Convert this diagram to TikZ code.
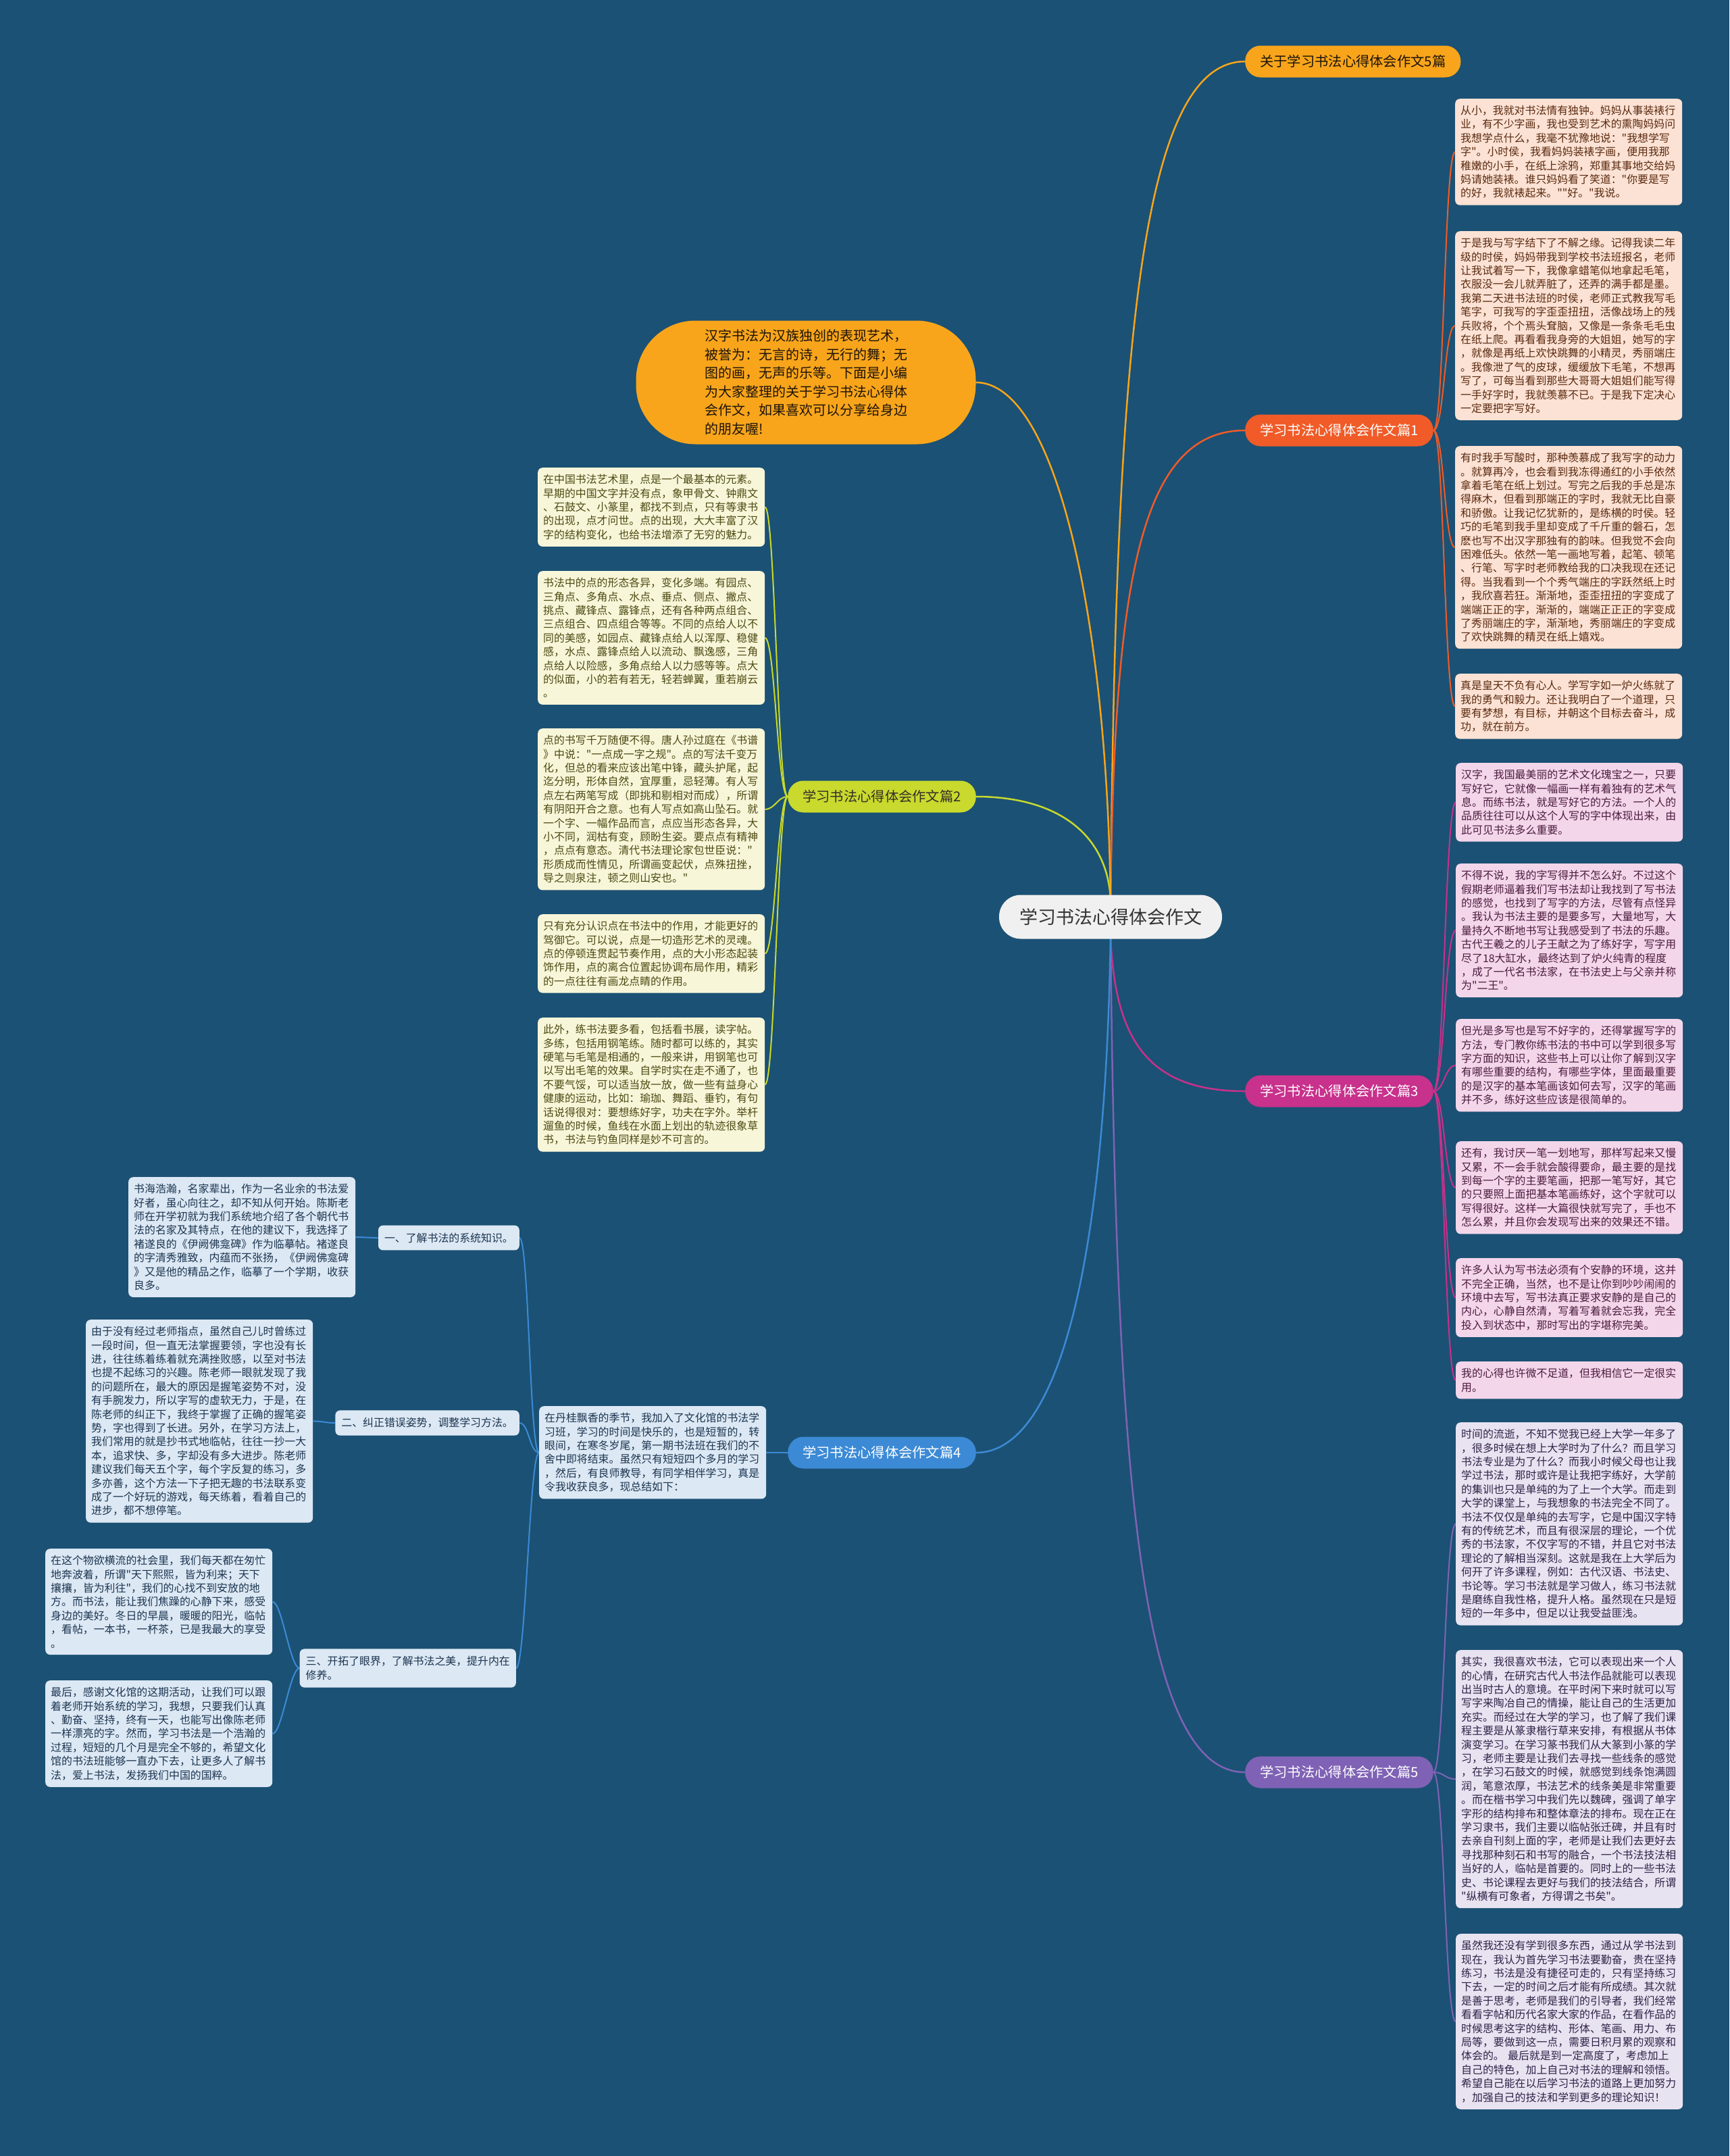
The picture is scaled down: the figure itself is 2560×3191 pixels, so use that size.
\documentclass[tikz,border=0pt]{standalone}
\usepackage{fontspec}
\setmainfont[Ligatures=TeXOff]{Noto Sans CJK SC}
\usetikzlibrary{backgrounds}
\definecolor{bg}{HTML}{1B5174}
\definecolor{cy}{HTML}{F8A51B}
\definecolor{c1}{HTML}{F05B28}
\definecolor{c3}{HTML}{C8318C}
\definecolor{c5}{HTML}{7F62B5}
\definecolor{c2}{HTML}{C9D92D}
\definecolor{c4}{HTML}{3C8AD5}
\definecolor{f1}{HTML}{FCE2D4}
\definecolor{f3}{HTML}{F4D6EA}
\definecolor{f5}{HTML}{E8E3F1}
\definecolor{f2}{HTML}{F8F6D9}
\definecolor{f4}{HTML}{DCE8F4}
\definecolor{t1}{HTML}{5A2A10}
\definecolor{t3}{HTML}{4B1C3E}
\definecolor{t5}{HTML}{2E2347}
\definecolor{t2}{HTML}{4B4A12}
\definecolor{t4}{HTML}{1C3550}
\begin{document}
\begin{tikzpicture}[x=1pt,y=-1pt,
  leaf/.style={rounded corners=7pt, anchor=north west, align=left, text width=320pt,
    inner xsep=8pt, inner ysep=10pt, font=\fontsize{15.9}{20.4}\selectfont},
  leafA/.style={leaf, fill=f1, text=t1},
  leafC/.style={leaf, fill=f3, text=t3},
  leafE/.style={leaf, fill=f5, text=t5},
  leafB/.style={leaf, fill=f2, text=t2},
  leafD/.style={leaf, fill=f4, text=t4},
  subbox/.style={rounded corners=7pt, fill=f4, text=t4, align=left, anchor=east,
    inner xsep=9pt, inner ysep=11pt, font=\fontsize{15.9}{20.4}\selectfont},
  branch/.style={rounded corners=23pt, minimum height=47pt, inner xsep=22pt,
    font=\fontsize{20.3}{24}\selectfont},
  trunk/.style={line width=2.5pt},
  twig/.style={line width=2pt}
]
\useasboundingbox (0,0) rectangle (2560,3191);

% ---------- central and branch nodes ----------
\node[rounded corners=32pt, fill=white!94!black, text=black!80, minimum width=330pt,
  minimum height=65pt, font=\fontsize{27}{32}\selectfont] (ctr) at (1644,1357) {学习书法心得体会作文};

\node[rounded corners=88pt, fill=cy, text=black!85!brown, minimum width=503pt, minimum height=183pt,
  align=left, font=\fontsize{20}{27.5}\selectfont] (intro) at (1193,566)
  {汉字书法为汉族独创的表现艺术，\\被誉为：无言的诗，无行的舞；无\\图的画，无声的乐等。下面是小编\\为大家整理的关于学习书法心得体\\会作文，如果喜欢可以分享给身边\\的朋友喔!};

\node[branch, fill=cy, text=black!85!brown, anchor=west] (p0) at (1843,91) {关于学习书法心得体会作文5篇};
\node[branch, fill=c1, text=white, anchor=west] (p1) at (1843,637) {学习书法心得体会作文篇1};
\node[branch, fill=c3, text=white, anchor=west] (p3) at (1843,1615) {学习书法心得体会作文篇3};
\node[branch, fill=c5, text=white, anchor=west] (p5) at (1843,2623) {学习书法心得体会作文篇5};
\node[branch, fill=c2, text=black!85!olive, anchor=east] (p2) at (1445,1179) {学习书法心得体会作文篇2};
\node[branch, fill=c4, text=white, anchor=east] (p4) at (1445,2150) {学习书法心得体会作文篇4};

% ---------- branch 1 ----------
\node[leafA] (a1) at (2154,146) {从小，我就对书法情有独钟。妈妈从事装裱行\\业，有不少字画，我也受到艺术的熏陶妈妈问\\我想学点什么，我毫不犹豫地说："我想学写\\字"。小时侯，我看妈妈装裱字画，便用我那\\稚嫩的小手，在纸上涂鸦，郑重其事地交给妈\\妈请她装裱。谁只妈妈看了笑道："你要是写\\的好，我就裱起来。""好。"我说。};
\node[leafA] (a2) at (2154,342) {于是我与写字结下了不解之缘。记得我读二年\\级的时侯，妈妈带我到学校书法班报名，老师\\让我试着写一下，我像拿蜡笔似地拿起毛笔，\\衣服没一会儿就弄脏了，还弄的满手都是墨。\\我第二天进书法班的时侯，老师正式教我写毛\\笔字，可我写的字歪歪扭扭，活像战场上的残\\兵败将，个个焉头耷脑，又像是一条条毛毛虫\\在纸上爬。再看看我身旁的大姐姐，她写的字\\，就像是再纸上欢快跳舞的小精灵，秀丽端庄\\。我像泄了气的皮球，缓缓放下毛笔，不想再\\写了，可每当看到那些大哥哥大姐姐们能写得\\一手好字时，我就羡慕不已。于是我下定决心\\一定要把字写好。};
\node[leafA] (a3) at (2154,660) {有时我手写酸时，那种羡慕成了我写字的动力\\。就算再冷，也会看到我冻得通红的小手依然\\拿着毛笔在纸上划过。写完之后我的手总是冻\\得麻木，但看到那端正的字时，我就无比自豪\\和骄傲。让我记忆犹新的，是练横的时侯。轻\\巧的毛笔到我手里却变成了千斤重的磐石，怎\\麽也写不出汉字那独有的韵味。但我觉不会向\\困难低头。依然一笔一画地写着，起笔、顿笔\\、行笔、写字时老师教给我的口决我现在还记\\得。当我看到一个个秀气端庄的字跃然纸上时\\，我欣喜若狂。渐渐地，歪歪扭扭的字变成了\\端端正正的字，渐渐的，端端正正正的字变成\\了秀丽端庄的字，渐渐地，秀丽端庄的字变成\\了欢快跳舞的精灵在纸上嬉戏。};
\node[leafA] (a4) at (2154,997) {真是皇天不负有心人。学写字如一炉火练就了\\我的勇气和毅力。还让我明白了一个道理，只\\要有梦想，有目标，并朝这个目标去奋斗，成\\功，就在前方。};

% ---------- branch 3 ----------
\node[leafC] (b1) at (2155,1129) {汉字，我国最美丽的艺术文化瑰宝之一，只要\\写好它，它就像一幅画一样有着独有的艺术气\\息。而练书法，就是写好它的方法。一个人的\\品质往往可以从这个人写的字中体现出来，由\\此可见书法多么重要。};
\node[leafC] (b2) at (2155,1278) {不得不说，我的字写得并不怎么好。不过这个\\假期老师逼着我们写书法却让我找到了写书法\\的感觉，也找到了写字的方法，尽管有点怪异\\。我认为书法主要的是要多写，大量地写，大\\量持久不断地书写让我感受到了书法的乐趣。\\古代王羲之的儿子王献之为了练好字，写字用\\尽了18大缸水，最终达到了炉火纯青的程度\\，成了一代名书法家，在书法史上与父亲并称\\为"二王"。};
\node[leafC] (b3) at (2155,1508) {但光是多写也是写不好字的，还得掌握写字的\\方法，专门教你练书法的书中可以学到很多写\\字方面的知识，这些书上可以让你了解到汉字\\有哪些重要的结构，有哪些字体，里面最重要\\的是汉字的基本笔画该如何去写，汉字的笔画\\并不多，练好这些应该是很简单的。};
\node[leafC] (b4) at (2155,1689) {还有，我讨厌一笔一划地写，那样写起来又慢\\又累，不一会手就会酸得要命，最主要的是找\\到每一个字的主要笔画，把那一笔写好，其它\\的只要照上面把基本笔画练好，这个字就可以\\写得很好。这样一大篇很快就写完了，手也不\\怎么累，并且你会发现写出来的效果还不错。};
\node[leafC] (b5) at (2155,1862) {许多人认为写书法必须有个安静的环境，这并\\不完全正确，当然，也不是让你到吵吵闹闹的\\环境中去写，写书法真正要求安静的是自己的\\内心，心静自然清，写着写着就会忘我，完全\\投入到状态中，那时写出的字堪称完美。};
\node[leafC] (b6) at (2155,2015) {我的心得也许微不足道，但我相信它一定很实\\用。};

% ---------- branch 5 ----------
\node[leafE] (e1) at (2155,2105) {时间的流逝，不知不觉我已经上大学一年多了\\，很多时候在想上大学时为了什么？而且学习\\书法专业是为了什么？而我小时候父母也让我\\学过书法，那时或许是让我把字练好，大学前\\的集训也只是单纯的为了上一个大学。而走到\\大学的课堂上，与我想象的书法完全不同了。\\书法不仅仅是单纯的去写字，它是中国汉字特\\有的传统艺术，而且有很深层的理论，一个优\\秀的书法家，不仅字写的不错，并且它对书法\\理论的了解相当深刻。这就是我在上大学后为\\何开了许多课程，例如：古代汉语、书法史、\\书论等。学习书法就是学习做人，练习书法就\\是磨练自我性格，提升人格。虽然现在只是短\\短的一年多中，但足以让我受益匪浅。};
\node[leafE] (e2) at (2155,2442) {其实，我很喜欢书法，它可以表现出来一个人\\的心情，在研究古代人书法作品就能可以表现\\出当时古人的意境。在平时闲下来时就可以写\\写字来陶冶自己的情操，能让自己的生活更加\\充实。而经过在大学的学习，也了解了我们课\\程主要是从篆隶楷行草来安排，有根据从书体\\演变学习。在学习篆书我们从大篆到小篆的学\\习，老师主要是让我们去寻找一些线条的感觉\\，在学习石鼓文的时候，就感觉到线条饱满圆\\润，笔意浓厚，书法艺术的线条美是非常重要\\。而在楷书学习中我们先以魏碑，强调了单字\\字形的结构排布和整体章法的排布。现在正在\\学习隶书，我们主要以临帖张迁碑，并且有时\\去亲自刊刻上面的字，老师是让我们去更好去\\寻找那种刻石和书写的融合，一个书法技法相\\当好的人，临帖是首要的。同时上的一些书法\\史、书论课程去更好与我们的技法结合，所谓\\"纵横有可象者，方得谓之书矣"。};
\node[leafE] (e3) at (2155,2862) {虽然我还没有学到很多东西，通过从学书法到\\现在，我认为首先学习书法要勤奋，贵在坚持\\练习，书法是没有捷径可走的，只有坚持练习\\下去，一定的时间之后才能有所成绩。其次就\\是善于思考，老师是我们的引导者，我们经常\\看看字帖和历代名家大家的作品，在看作品的\\时候思考这字的结构、形体、笔画、用力、布\\局等，要做到这一点，需要日积月累的观察和\\体会的。 最后就是到一定高度了，考虑加上\\自己的特色，加上自己对书法的理解和领悟。\\希望自己能在以后学习书法的道路上更加努力\\，加强自己的技法和学到更多的理论知识！};

% ---------- branch 2 ----------
\node[leafB] (d1) at (796,692) {在中国书法艺术里，点是一个最基本的元素。\\早期的中国文字并没有点，象甲骨文、钟鼎文\\、石鼓文、小篆里，都找不到点，只有等隶书\\的出现，点才问世。点的出现，大大丰富了汉\\字的结构变化，也给书法增添了无穷的魅力。};
\node[leafB] (d2) at (796,845) {书法中的点的形态各异，变化多端。有园点、\\三角点、多角点、水点、垂点、侧点、撇点、\\挑点、藏锋点、露锋点，还有各种两点组合、\\三点组合、四点组合等等。不同的点给人以不\\同的美感，如园点、藏锋点给人以浑厚、稳健\\感，水点、露锋点给人以流动、飘逸感，三角\\点给人以险感，多角点给人以力感等等。点大\\的似面，小的若有若无，轻若蝉翼，重若崩云\\。};
\node[leafB] (d3) at (796,1078) {点的书写千万随便不得。唐人孙过庭在《书谱\\》中说："一点成一字之规"。点的写法千变万\\化，但总的看来应该出笔中锋，藏头护尾，起\\迄分明，形体自然，宜厚重，忌轻薄。有人写\\点左右两笔写成（即挑和剔相对而成），所谓\\有阴阳开合之意。也有人写点如高山坠石。就\\一个字、一幅作品而言，点应当形态各异，大\\小不同，润枯有变，顾盼生姿。要点点有精神\\，点点有意态。清代书法理论家包世臣说："\\形质成而性情见，所谓画变起伏，点殊扭挫，\\导之则泉注，顿之则山安也。"};
\node[leafB] (d4) at (796,1353) {只有充分认识点在书法中的作用，才能更好的\\驾御它。可以说，点是一切造形艺术的灵魂。\\点的停顿连贯起节奏作用，点的大小形态起装\\饰作用，点的离合位置起协调布局作用，精彩\\的一点往往有画龙点睛的作用。};
\node[leafB] (d5) at (796,1506) {此外，练书法要多看，包括看书展，读字帖。\\多练，包括用钢笔练。随时都可以练的，其实\\硬笔与毛笔是相通的，一般来讲，用钢笔也可\\以写出毛笔的效果。自学时实在走不通了，也\\不要气馁，可以适当放一放，做一些有益身心\\健康的运动，比如：瑜珈、舞蹈、垂钓，有句\\话说得很对：要想练好字，功夫在字外。举杆\\遛鱼的时候，鱼线在水面上划出的轨迹很象草\\书，书法与钓鱼同样是妙不可言的。};

% ---------- branch 4 ----------
\node[leafD] (m) at (798,2081) {在丹桂飘香的季节，我加入了文化馆的书法学\\习班，学习的时间是快乐的，也是短暂的，转\\眼间，在寒冬岁尾，第一期书法班在我们的不\\舍中即将结束。虽然只有短短四个多月的学习\\，然后，有良师教导，有同学相伴学习，真是\\令我收获良多，现总结如下：};
\node[subbox] (s1) at (769,1832) {一、了解书法的系统知识。};
\node[subbox] (s2) at (769,2106) {二、纠正错误姿势，调整学习方法。};
\node[subbox] (s3) at (764,2469) {三、开拓了眼界，了解书法之美，提升内在\\修养。};
\node[leafD] (g1) at (190,1742) {书海浩瀚，名家辈出，作为一名业余的书法爱\\好者，虽心向往之，却不知从何开始。陈斯老\\师在开学初就为我们系统地介绍了各个朝代书\\法的名家及其特点，在他的建议下，我选择了\\褚遂良的《伊阙佛龛碑》作为临摹帖。褚遂良\\的字清秀雅致，内蕴而不张扬，《伊阙佛龛碑\\》又是他的精品之作，临摹了一个学期，收获\\良多。};
\node[leafD] (g2) at (127,1953) {由于没有经过老师指点，虽然自己儿时曾练过\\一段时间，但一直无法掌握要领，字也没有长\\进，往往练着练着就充满挫败感，以至对书法\\也提不起练习的兴趣。陈老师一眼就发现了我\\的问题所在，最大的原因是握笔姿势不对，没\\有手腕发力，所以字写的虚软无力，于是，在\\陈老师的纠正下，我终于掌握了正确的握笔姿\\势，字也得到了长进。另外，在学习方法上，\\我们常用的就是抄书式地临帖，往往一抄一大\\本，追求快、多，字却没有多大进步。陈老师\\建议我们每天五个字，每个字反复的练习，多\\多亦善，这个方法一下子把无趣的书法联系变\\成了一个好玩的游戏，每天练着，看着自己的\\进步，都不想停笔。};
\node[leafD] (g3) at (67,2292) {在这个物欲横流的社会里，我们每天都在匆忙\\地奔波着，所谓"天下熙熙，皆为利来；天下\\攘攘，皆为利往"，我们的心找不到安放的地\\方。而书法，能让我们焦躁的心静下来，感受\\身边的美好。冬日的早晨，暖暖的阳光，临帖\\，看帖，一本书，一杯茶，已是我最大的享受\\。};
\node[leafD] (g4) at (67,2487) {最后，感谢文化馆的这期活动，让我们可以跟\\着老师开始系统的学习，我想，只要我们认真\\、勤奋、坚持，终有一天，也能写出像陈老师\\一样漂亮的字。然而，学习书法是一个浩瀚的\\过程，短短的几个月是完全不够的，希望文化\\馆的书法班能够一直办下去，让更多人了解书\\法，爱上书法，发扬我们中国的国粹。};

% ---------- connectors ----------
\begin{pgfonlayer}{background}
\fill[bg] (0,0) rectangle (2560,3191);
\coordinate (cT) at (1644,1330);
\coordinate (cB) at (1644,1385);
\draw[trunk, cy] (cT) .. controls (1652,509) and (1689,91) .. (p0.west);
\draw[trunk, c1] (cT) .. controls (1650,877) and (1683,637) .. (p1.west);
\draw[trunk, c3] (cB) .. controls (1650,1540) and (1700,1615) .. (p3.west);
\draw[trunk, c5] (cB) .. controls (1652,2200) and (1690,2623) .. (p5.west);
\draw[trunk, c2] (cT) .. controls (1638,1230) and (1560,1179) .. (p2.east);
\draw[trunk, c4] (cB) .. controls (1636,1900) and (1560,2150) .. (p4.east);
\draw[trunk, cy] (cT) .. controls (1638,900) and (1560,566) .. (intro.east);
\foreach \t in {a1,a2,a3,a4}
  \draw[twig, c1] (p1.east) .. controls +(16,0) and +(-16,0) .. (\t.west);
\foreach \t in {b1,b2,b3,b4,b5,b6}
  \draw[twig, c3] (p3.east) .. controls +(16,0) and +(-16,0) .. (\t.west);
\foreach \t in {e1,e2,e3}
  \draw[twig, c5] (p5.east) .. controls +(16,0) and +(-16,0) .. (\t.west);
\foreach \t in {d1,d2,d3,d4,d5}
  \draw[twig, c2] (p2.west) .. controls +(-15,0) and +(15,0) .. (\t.east);
\draw[twig, c4] (p4.west) .. controls +(-15,0) and +(15,0) .. (m.east);
\foreach \t in {s1,s2,s3}
  \draw[twig, c4] (m.west) .. controls +(-14,0) and +(14,0) .. (\t.east);
\draw[twig, c4] (s1.west) .. controls +(-15,0) and +(15,0) .. (g1.east);
\draw[twig, c4] (s2.west) .. controls +(-13,0) and +(13,0) .. (g2.east);
\draw[twig, c4] (s3.west) .. controls +(-14,0) and +(14,0) .. (g3.east);
\draw[twig, c4] (s3.west) .. controls +(-14,0) and +(14,0) .. (g4.east);
\end{pgfonlayer}
\end{tikzpicture}
\end{document}
